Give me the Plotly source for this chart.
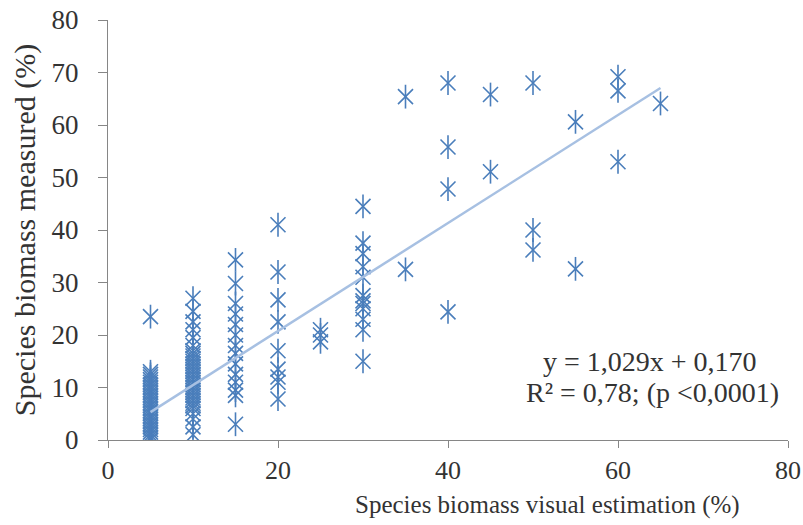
import plotly.graph_objects as go

# Data (visual estimation x, measured y)
x5 = [0, 0.5, 1, 1.5, 2, 2.5, 3, 3.5, 4, 4.5, 5, 5.5, 6, 6.5, 7, 7.5, 8, 8.5, 9, 9.5,
      10, 10.5, 11, 11.5, 12, 12.5, 13, 23.5]
x10 = [1, 2.5, 4, 5, 6, 6.5, 7, 7.5, 8, 8.5, 9, 9.5, 10, 10.5, 11, 11.5, 12, 12.5, 13,
       13.5, 14, 14.5, 15, 15.5, 16, 16.5, 17, 18, 19.5, 21, 22.5, 24.5, 27]
x15 = [34.3, 29.8, 26, 24, 22, 20, 18, 16.5, 14.5, 12.5, 11, 9.5, 8.5, 3]
x20 = [41, 32, 26.7, 22.5, 17, 13.5, 12, 11, 7.8]
x25 = [21, 20, 18.7]
x30 = [44.5, 37.5, 35.5, 33, 31, 27.5, 26.5, 26, 25, 23, 21, 15]
x35 = [65.4, 32.5]
x40 = [68, 55.8, 47.8, 24.4]
x45 = [65.8, 51.1]
x50 = [68, 40, 36.2]
x55 = [60.6, 32.6]
x60 = [69.2, 66.5, 53]
x65 = [64.1]

groups = {5: x5, 10: x10, 15: x15, 20: x20, 25: x25, 30: x30, 35: x35,
          40: x40, 45: x45, 50: x50, 55: x55, 60: x60, 65: x65}

xs, ys = [], []
for k, vals in groups.items():
    for v in vals:
        xs.append(k)
        ys.append(v)

slope, intercept = 1.029, 0.170
trend_x = [5, 65]
trend_y = [slope * v + intercept for v in trend_x]

x_ticks = [0, 20, 40, 60, 80]
y_ticks = [0, 10, 20, 30, 40, 50, 60, 70, 80]

eq_line1 = "y = 1,029x + 0,170"
eq_line2 = "R² = 0,78; (p <0,0001)"
x_title = "Species biomass visual estimation (%)"
y_title = "Species biomass measured (%)"

blue = "#4A7EBB"
text_color = "#333333"
fig = go.Figure()
fig.add_trace(go.Scatter(x=xs, y=ys, mode="markers",
                         marker=dict(symbol="x-thin-open", size=15, color=blue,
                                     line=dict(color=blue, width=1.6)),
                         showlegend=False, hoverinfo="skip"))
fig.add_trace(go.Scatter(x=xs, y=ys, mode="markers",
                         marker=dict(symbol="line-ns-open", size=17, color=blue,
                                     line=dict(color=blue, width=1.6)),
                         showlegend=False))
fig.add_trace(go.Scatter(x=trend_x, y=trend_y, mode="lines",
                         line=dict(color="#A7C0E2", width=2.5),
                         showlegend=False))

font = "Liberation Serif, Times New Roman, serif"
fig.update_layout(
    width=803, height=525,
    margin=dict(l=108, r=15, t=20, b=85),
    plot_bgcolor="white", paper_bgcolor="white",
    font=dict(family=font, size=27, color=text_color),
    xaxis=dict(range=[0, 80], tickvals=x_ticks, showgrid=False, zeroline=False,
               showline=True, linecolor="#868686", linewidth=1.2,
               ticks="outside", ticklen=7, tickcolor="#868686",
               automargin=False, tickfont=dict(size=26)),
    yaxis=dict(range=[0, 80], tickvals=y_ticks, showgrid=False, zeroline=False,
               showline=True, linecolor="#868686", linewidth=1.2,
               ticks="outside", ticklen=9, tickcolor="#868686",
               automargin=False, ticklabelstandoff=14,
               title=dict(text=y_title, font=dict(size=30), standoff=7),
               tickfont=dict(size=27)),
    annotations=[
        dict(x=0.647, y=-0.155, xref="paper", yref="paper",
             xanchor="center", yanchor="middle", text=x_title,
             showarrow=False, font=dict(size=25, family=font, color=text_color)),
        dict(x=0.797, y=0.186, xref="paper", yref="paper",
             xanchor="center", yanchor="middle", text=eq_line1,
             showarrow=False, font=dict(size=28, family=font, color=text_color)),
        dict(x=0.800, y=0.114, xref="paper", yref="paper",
             xanchor="center", yanchor="middle", text=eq_line2,
             showarrow=False, font=dict(size=28, family=font, color=text_color)),
    ],
)

fig.write_html("out.html")
